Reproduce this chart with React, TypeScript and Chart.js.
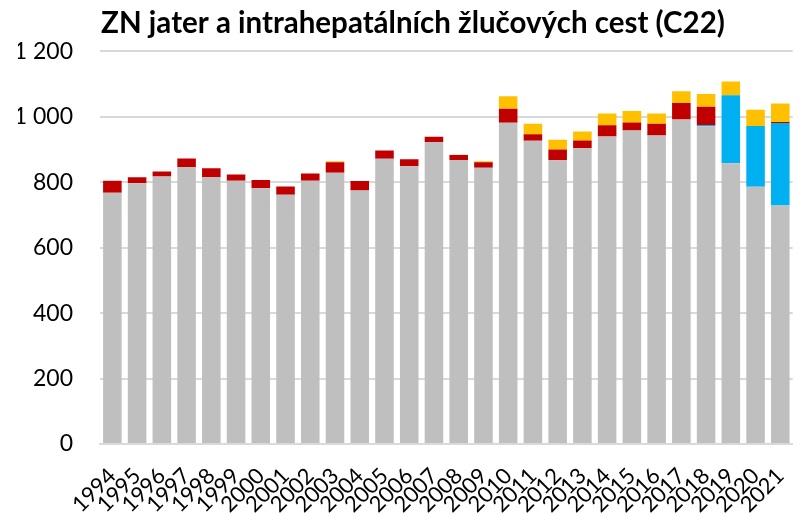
import React, { useEffect, useRef } from "react";
import { Chart, registerables } from "chart.js";
Chart.register(...registerables);

const years = [
  "1994", "1995", "1996", "1997", "1998", "1999", "2000", "2001", "2002", "2003",
  "2004", "2005", "2006", "2007", "2008", "2009", "2010", "2011", "2012", "2013",
  "2014", "2015", "2016", "2017", "2018", "2019", "2020", "2021",
];
const grayValues = [
  768, 797, 818, 847, 816, 805, 782, 762, 805, 829,
  775, 872, 849, 923, 868, 844, 982, 927, 867, 904,
  940, 958, 943, 992, 971, 858, 786, 729,
];
const blueValues = [
  0, 0, 0, 0, 0, 0, 0, 0, 0, 0,
  0, 0, 0, 0, 0, 0, 0, 0, 0, 0,
  0, 0, 0, 0, 4, 208, 186, 252,
];
const redValues = [
  37, 18, 15, 26, 27, 19, 25, 25, 22, 32,
  29, 25, 21, 16, 15, 17, 43, 20, 33, 24,
  34, 25, 36, 50, 56, 0, 0, 3,
];
const yellowValues = [
  0, 0, 0, 0, 0, 0, 0, 0, 0, 3,
  0, 0, 0, 0, 1, 3, 38, 32, 30, 27,
  36, 35, 31, 36, 39, 42, 50, 57,
];
const titleText = "ZN jater a intrahepatálních žlučových cest (C22)";
const yMin = 0;
const yMax = 1200;
const yStep = 200;

const FONT = "Lato, 'Open Sans', sans-serif";

export default function App() {
  const ref = useRef<HTMLCanvasElement>(null);
  useEffect(() => {
    document.body.style.margin = "0";
    const ctx = ref.current!;
    const mk = (data: number[], color: string) => ({
      data,
      backgroundColor: color,
      borderWidth: 0,
      categoryPercentage: 1,
      barPercentage: 0.75,
    });
    const chart = new Chart(ctx, {
      type: "bar",
      data: {
        labels: years,
        datasets: [
          mk(grayValues, "#BFBFBF"),
          mk(blueValues, "#00B0F0"),
          mk(redValues, "#C00000"),
          mk(yellowValues, "#FFC000"),
        ],
      },
      options: {
        responsive: false,
        animation: false,
        layout: { padding: { left: 18, right: 2, top: 0, bottom: 0 } },
        plugins: {
          legend: { display: false },
          tooltip: { enabled: false },
          title: {
            display: true,
            text: titleText,
            color: "#000",
            font: { family: FONT, size: 29.5, weight: "bold" },
            padding: { top: 6, bottom: 10 },
          },
        },
        scales: {
          x: {
            stacked: true,
            grid: { display: false },
            border: { display: true, color: "#D9D9D9", width: 2 },
            ticks: {
              color: "#000",
              font: { family: FONT, size: 22 },
              minRotation: 45,
              maxRotation: 45,
              autoSkip: false,
              padding: 11,
            },
            afterFit: (s: any) => {
              s.height = 71;
            },
          },
          y: {
            stacked: true,
            min: yMin,
            max: yMax,
            border: { display: false },
            grid: { color: "#D9D9D9", lineWidth: 2, drawTicks: false },
            ticks: {
              stepSize: yStep,
              color: "#000",
              font: { family: FONT, size: 23 },
              padding: 27,
              callback: (v: any) =>
                String(v).replace(/\B(?=(\d{3})+(?!\d))/g, " "),
            },
            afterFit: (s: any) => {
              s.width = 82;
            },
          },
        },
      },
    });
    return () => chart.destroy();
  }, []);
  return (
    <div style={{ width: 800, height: 515, overflow: "hidden" }}>
      <canvas ref={ref} width={810} height={515} style={{ display: "block" }} />
    </div>
  );
}
